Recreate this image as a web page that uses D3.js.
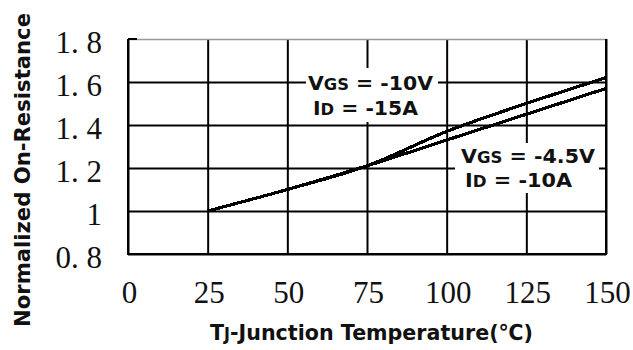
<!DOCTYPE html>
<html><head><meta charset="utf-8">
<script src="https://cdn.jsdelivr.net/npm/d3@7"></script>
<style>
body{margin:0;background:#fff;}
svg{display:block;}
</style>
</head><body>
<svg id="chart" width="633" height="350"></svg>
<script>
// ---- data ----
const tempC = [25, 50, 75, 100, 125, 150];
const rdsVgs10 = [1.00, 1.10, 1.21, 1.37, 1.50, 1.62];   // VGS=-10V, ID=-15A
const rdsVgs45 = [1.00, 1.10, 1.21, 1.33, 1.45, 1.57];   // VGS=-4.5V, ID=-10A
const xTicks = [0, 25, 50, 75, 100, 125, 150];
const xTickLabels = ["0", "25", "50", "75", "100", "125", "150"];
const yTicks = [0.8, 1.0, 1.2, 1.4, 1.6, 1.8];
const yTickLabels = ["0. 8", "1", "1. 2", "1. 4", "1. 6", "1. 8"];

const svg = d3.select("#chart");
const margin = {left: 128, top: 39, right: 27, bottom: 96};
const W = 633, H = 350;
const pw = W - margin.left - margin.right;   // 478
const ph = H - margin.top - margin.bottom;   // 215

const x = d3.scaleLinear().domain([0, 150]).range([0, pw]);
const y = d3.scaleLinear().domain([0.8, 1.8]).range([ph, 0]);

const g = svg.append("g").attr("transform", `translate(${margin.left},${margin.top})`);

// grid via axes
const xAxis = d3.axisBottom(x).tickValues(xTicks)
  .tickFormat((d, i) => xTickLabels[i]).tickSize(-ph).tickPadding(27);
const gx = g.append("g").attr("transform", `translate(0,${ph})`).call(xAxis);
gx.select(".domain").remove();
gx.selectAll(".tick line").attr("stroke", "#000").attr("stroke-width", 2);
gx.selectAll(".tick text")
  .attr("font-family", "'Liberation Serif', serif").attr("font-size", 31)
  .attr("fill", "#111").attr("dy", "0.71em").attr("dx", 1);

const yAxis = d3.axisLeft(y).tickValues(yTicks)
  .tickFormat((d, i) => yTickLabels[i]).tickSize(-pw).tickPadding(26);
const gy = g.append("g").call(yAxis);
gy.select(".domain").remove();
gy.selectAll(".tick line").attr("stroke", "#000").attr("stroke-width", 2);
gy.selectAll(".tick text")
  .attr("font-family", "'Liberation Serif', serif").attr("font-size", 31)
  .attr("fill", "#111").attr("dy", "0.42em").style("white-space", "pre");

// top border lighter
gy.selectAll(".tick").filter(d => d === 1.8).select("line")
  .attr("stroke", "#999").attr("stroke-width", 1.5);

// frame (left, bottom, right)
g.append("path")
  .attr("d", `M0,0 V${ph} H${pw} V0`)
  .attr("fill", "none").attr("stroke", "#000").attr("stroke-width", 2);
g.append("path").attr("d", "M0,0 H9").attr("stroke", "#000").attr("stroke-width", 2);

// curves
const line = d3.line().x(d => x(d[0])).y(d => y(d[1])).curve(d3.curveCatmullRom.alpha(0.5));
[rdsVgs10, rdsVgs45].forEach(series => {
  g.append("path")
    .datum(tempC.map((t, i) => [t, series[i]]))
    .attr("d", line)
    .attr("fill", "none").attr("stroke", "#000").attr("stroke-width", 3.2)
    .attr("shape-rendering", "crispEdges");
});

// annotations
function annot(rx, ry, rw, rh, tx, l1, l2) {
  svg.append("rect").attr("x", rx).attr("y", ry).attr("width", rw).attr("height", rh).attr("fill", "#fff");
  const t1 = svg.append("text").attr("x", tx).attr("y", l1.y)
    .attr("font-family", "'DejaVu Sans', sans-serif").attr("font-weight", "bold")
    .attr("font-size", 20).attr("fill", "#111")
    .attr("textLength", l1.w).attr("lengthAdjust", "spacingAndGlyphs");
  t1.append("tspan").text("V");
  t1.append("tspan").attr("font-size", 16).text("GS");
  t1.append("tspan").text(l1.rest);
  const t2 = svg.append("text").attr("x", tx + l2.dx).attr("y", l2.y)
    .attr("font-family", "'DejaVu Sans', sans-serif").attr("font-weight", "bold")
    .attr("font-size", 20).attr("fill", "#111")
    .attr("textLength", l2.w).attr("lengthAdjust", "spacingAndGlyphs");
  t2.append("tspan").text("I");
  t2.append("tspan").attr("font-size", 16).text("D");
  t2.append("tspan").text(l2.rest);
}
annot(306, 68, 132, 54, 308, {y: 90, w: 125, rest: " = -10V"}, {y: 115, w: 105, dx: 5, rest: " = -15A"});
annot(455, 143, 144, 50, 461, {y: 163, w: 134, rest: " = -4.5V"}, {y: 187, w: 107, dx: 4, rest: " = -10A"});

// axis titles
const xt = svg.append("text").attr("x", 210).attr("y", 340)
  .attr("font-family", "'DejaVu Sans', sans-serif").attr("font-weight", "bold")
  .attr("font-size", 22).attr("fill", "#111")
  .attr("textLength", 323).attr("lengthAdjust", "spacingAndGlyphs");
xt.append("tspan").text("T");
xt.append("tspan").attr("font-size", 17).text("J");
xt.append("tspan").text("-Junction Temperature(℃)");

svg.append("text").attr("transform", "translate(30,327) rotate(-90)")
  .attr("font-family", "'DejaVu Sans', sans-serif").attr("font-weight", "bold")
  .attr("font-size", 22).attr("fill", "#111")
  .attr("textLength", 314).attr("lengthAdjust", "spacingAndGlyphs")
  .text("Normalized On-Resistance");
</script>
</body></html>
